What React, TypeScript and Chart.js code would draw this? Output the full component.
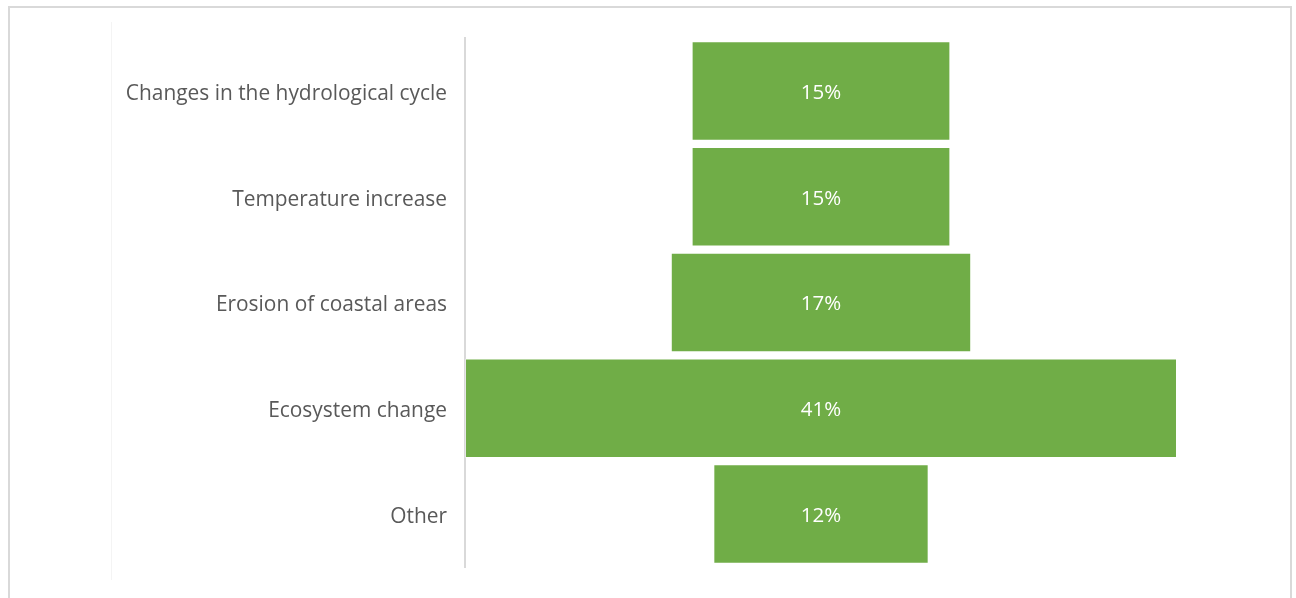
import React, { useEffect, useRef } from "react";
import { Chart, registerables } from "chart.js";

Chart.register(...registerables);

const categories = [
  "Changes in the hydrological cycle",
  "Temperature increase",
  "Erosion of coastal areas",
  "Ecosystem change",
  "Other",
];
const values = [14.9, 14.9, 17.3, 41, 12.4];
const valueLabels = ["15%", "15%", "17%", "41%", "12%"];

const FONT = "'Open Sans', sans-serif";

export default function App() {
  const ref = useRef<HTMLCanvasElement | null>(null);

  useEffect(() => {
    if (!ref.current) return;
    const maxV = Math.max(...values);
    const mid = maxV / 2;
    const labelPlugin = {
      id: "centerLabels",
      afterDatasetsDraw(chart: any) {
        const ctx = chart.ctx;
        const meta = chart.getDatasetMeta(0);
        ctx.save();
        ctx.fillStyle = "#ffffff";
        ctx.font = `20.5px ${FONT}`;
        ctx.textAlign = "center";
        ctx.textBaseline = "middle";
        meta.data.forEach((bar: any, i: number) => {
          const p = bar.getProps(["x", "base", "y"], true);
          ctx.fillText(valueLabels[i], (p.x + p.base) / 2, p.y + 2);
        });
        ctx.restore();
      },
    };
    const chart = new Chart(ref.current, {
      type: "bar",
      data: {
        labels: categories,
        datasets: [
          {
            data: values.map((v) => [mid - v / 2, mid + v / 2]) as any,
            backgroundColor: "#70ad47",
            borderColor: "rgba(255,255,255,0.35)",
            borderWidth: 1,
            borderSkipped: false,
            barPercentage: 0.94,
            categoryPercentage: 1,
          },
        ],
      },
      options: {
        indexAxis: "y",
        animation: false,
        responsive: false,
        maintainAspectRatio: false,
        layout: { padding: { top: 38, bottom: 31, right: 119, left: 0 } },
        plugins: { legend: { display: false }, tooltip: { enabled: false } },
        scales: {
          x: { display: false, min: 0, max: maxV },
          y: {
            afterFit(scale: any) {
              scale.width = 465;
            },
            grid: { display: false, drawTicks: false },
            border: { display: true, color: "#d9d9d9", width: 2 },
            ticks: {
              color: "#595959",
              font: { family: FONT, size: 20.9 },
              padding: 18,
              labelOffset: 3,
            },
          },
        },
      },
      plugins: [labelPlugin],
    });
    return () => chart.destroy();
  }, []);

  return (
    <div style={{ position: "absolute", left: 0, top: 0, width: 1296, height: 598, background: "#fff" }}>
      <div
        style={{
          position: "absolute",
          left: 8,
          top: 6,
          width: 1284,
          height: 600,
          borderLeft: "2px solid #d9d9d9",
          borderTop: "2px solid #d9d9d9",
          borderRight: "2px solid #d9d9d9",
          boxSizing: "border-box",
        }}
      />
      <div
        style={{
          position: "absolute",
          left: 111,
          top: 22,
          width: 1,
          height: 558,
          background: "#f4f4f4",
        }}
      />
      <canvas ref={ref} width={1296} height={598} style={{ position: "absolute", left: 0, top: 0 }} />
    </div>
  );
}
